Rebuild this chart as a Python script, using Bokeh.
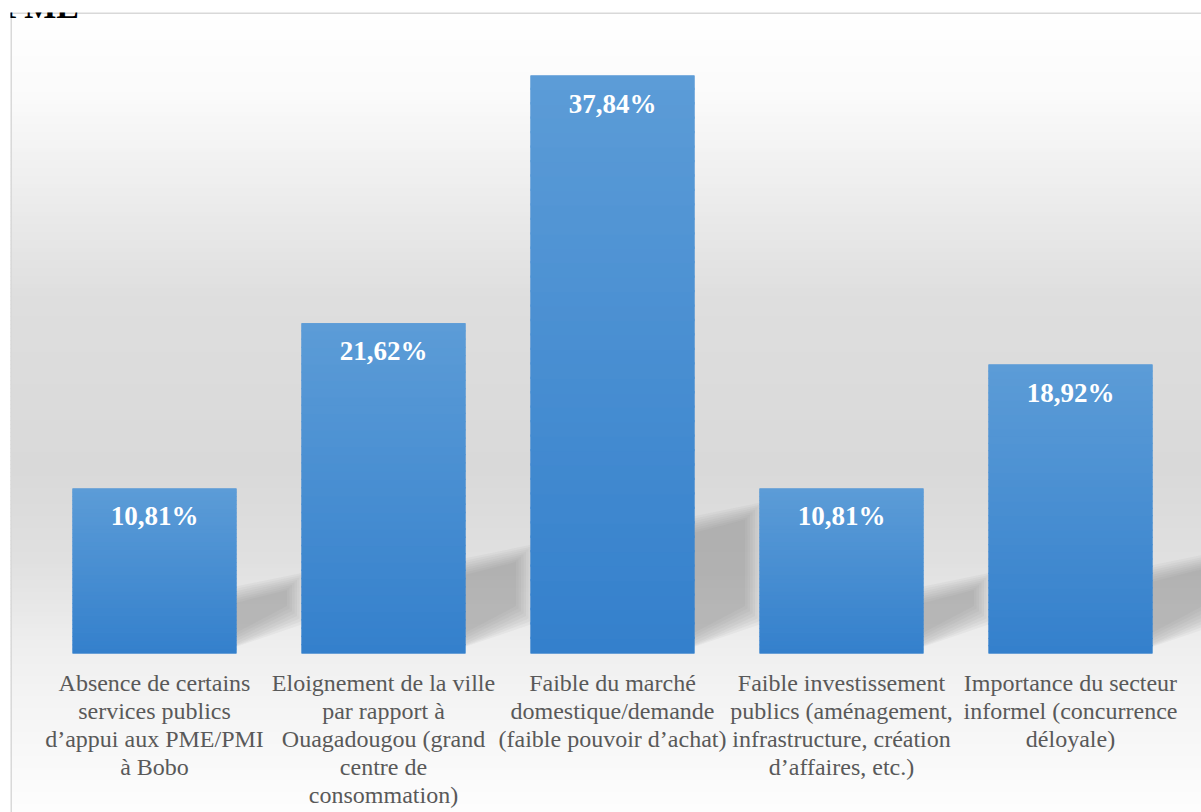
import numpy as np
from bokeh.plotting import figure
from bokeh.models import Range1d, Span, Label
from bokeh.core.properties import value
from bokeh.embed import file_html
from bokeh.resources import INLINE

# ---------------- data ----------------
categories = [
    "Absence de certains\nservices publics\nd\u2019appui aux PME/PMI\n\u00e0 Bobo",
    "Eloignement de la ville\npar rapport \u00e0\nOuagadougou (grand\ncentre de\nconsommation)",
    "Faible du march\u00e9\ndomestique/demande\n(faible pouvoir d\u2019achat)",
    "Faible investissement\npublics (am\u00e9nagement,\ninfrastructure, cr\u00e9ation\nd\u2019affaires, etc.)",
    "Importance du secteur\ninformel (concurrence\nd\u00e9loyale)",
]
values = [10.81, 21.62, 37.84, 10.81, 18.92]
title_text = "PME"

idx = list(range(len(values)))
value_labels = [f"{v:.2f}".replace(".", ",") + "%" for v in values]

# ---------------- geometry (pixel <-> data helpers for decoration) ----------------
X0_PX, X_STEP = 154.0, 229.0        # page px of first bar centre, px per category
Y0_PX, Y_SCALE = 653.0, 578.0 / 37.84  # page px of value 0, px per percent
BAR_W = 0.716

def px_x(px):
    return (px - X0_PX) / X_STEP

def px_y(py):
    return (Y0_PX - py) / Y_SCALE

FRAME_L, FRAME_T, W, H = 10, 12, 1201, 812

p = figure(width=W, height=H,
           x_range=Range1d(px_x(FRAME_L), px_x(W)),
           y_range=Range1d(px_y(H), px_y(FRAME_T)),
           output_backend="svg", toolbar_location=None,
           x_axis_location=None, y_axis_location=None,
           min_border_left=FRAME_L, min_border_top=FRAME_T,
           min_border_right=0, min_border_bottom=0)
p.grid.visible = False
p.outline_line_color = None
p.background_fill_color = "white"
p.border_fill_color = "white"

# ---------------- background gradient (wall + floor) ----------------
stops_py = [12, 100, 200, 300, 470, 560, 650, 700, 812]
stops_g = [255, 250, 236, 222, 217, 224, 239, 244, 253]
band = 4
tops, bots, cols = [], [], []
for py in range(FRAME_T, H, band):
    g = int(round(np.interp(py + band / 2, stops_py, stops_g)))
    tops.append(px_y(py - 0.5))
    bots.append(px_y(py + band + 0.5))
    cols.append("#%02x%02x%02x" % (g, g, g))
p.quad(left=px_x(FRAME_L - 2), right=px_x(W + 2), top=tops, bottom=bots,
       fill_color=cols, line_color=None)

# ---------------- soft shadows ----------------
sh_xs, sh_ys = [], []
for i, v in zip(idx, values):
    xr_px = X0_PX + X_STEP * i + BAR_W * X_STEP / 2
    h = v * Y_SCALE
    sh = 25 + 0.17 * h
    Wd = 58
    for k in range(8):
        e = 10 - 2.5 * k  # expansion in px (positive = bigger, softer)
        pts = [(-20, 3 - min(e, 3)), (-20, sh + e), (Wd + e, sh + 18 + e), (Wd + e, 40 - e)]
        sh_xs.append([px_x(xr_px + a) for a, b in pts])
        sh_ys.append([px_y(Y0_PX - b) for a, b in pts])
p.patches(sh_xs, sh_ys, fill_color="#7a7a7a", fill_alpha=0.065, line_color=None)

# ---------------- bars (gradient light top -> dark bottom) ----------------
p.vbar(x=idx, top=values, bottom=0, width=BAR_W, fill_color="#4a8fd3", line_color=None)
n = 40
top_c = np.array([92, 156, 215])
bot_c = np.array([52, 128, 204])
gl, gr, gt, gb, gc = [], [], [], [], []
for i, v in zip(idx, values):
    for k in range(n):
        f = (k + 0.5) / n
        c = bot_c + (top_c - bot_c) * f
        gl.append(i - BAR_W / 2)
        gr.append(i + BAR_W / 2)
        gb.append(v * k / n)
        gt.append(min(v, v * (k + 1) / n + v * 0.004))
        gc.append("#%02x%02x%02x" % tuple(int(round(t)) for t in c))
p.quad(left=gl, right=gr, top=gt, bottom=gb, fill_color=gc, line_color=None)

# ---------------- value labels ----------------
p.text(x=idx, y=values, text=value_labels, text_color="white",
       text_font=value("Liberation Serif"), text_font_style="bold",
       text_font_size="27px", text_align="center", text_baseline="middle",
       y_offset=28)

# ---------------- category labels ----------------
p.text(x=idx, y=[0] * len(idx), text=categories, text_color="#595959",
       text_font=value("Liberation Serif"), text_font_size="24px",
       text_align="center", text_baseline="top", text_line_height=1.08,
       y_offset=16)

# ---------------- chart border ----------------
p.add_layout(Span(location=px_x(FRAME_L + 0.5), dimension="height",
                  line_color="#d9d9d9", line_width=2))
p.add_layout(Span(location=px_y(FRAME_T + 0.5), dimension="width",
                  line_color="#d9d9d9", line_width=2))

# ---------------- cut-off title ----------------
p.add_layout(Label(x=px_x(3), y=px_y(6), text=title_text,
                   text_font="Liberation Serif", text_font_style="bold",
                   text_font_size="34px", text_color="black",
                   text_baseline="alphabetic", text_align="left"))

open("out.html", "w").write(file_html(p, INLINE))
